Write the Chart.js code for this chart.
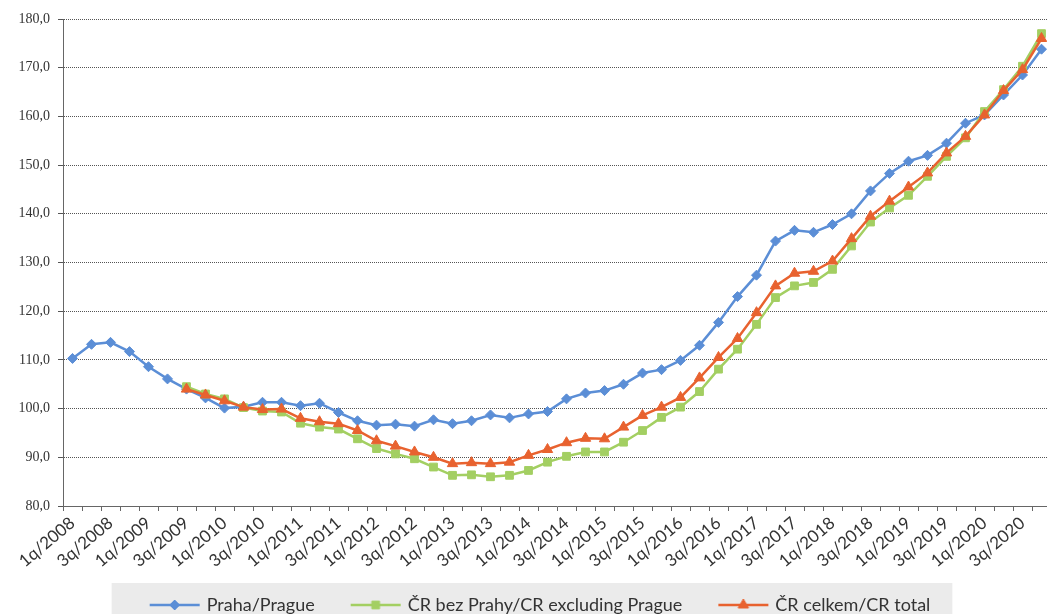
<!DOCTYPE html>
<html>
<head>
<meta charset="utf-8">
<script src="https://cdn.jsdelivr.net/npm/chart.js@4.4.1/dist/chart.umd.min.js"></script>
<style>
  html, body { margin: 0; padding: 0; background: #ffffff; overflow: hidden; }
  #wrap { position: absolute; left: 0; top: 0; width: 1058px; height: 624px; }
</style>
</head>
<body>
<div id="wrap"><canvas id="chart"></canvas></div>
<script>
// Quarterly categories, 1q/2008 .. 4q/2020
const quarters = [
  '1q/2008','2q/2008','3q/2008','4q/2008',
  '1q/2009','2q/2009','3q/2009','4q/2009',
  '1q/2010','2q/2010','3q/2010','4q/2010',
  '1q/2011','2q/2011','3q/2011','4q/2011',
  '1q/2012','2q/2012','3q/2012','4q/2012',
  '1q/2013','2q/2013','3q/2013','4q/2013',
  '1q/2014','2q/2014','3q/2014','4q/2014',
  '1q/2015','2q/2015','3q/2015','4q/2015',
  '1q/2016','2q/2016','3q/2016','4q/2016',
  '1q/2017','2q/2017','3q/2017','4q/2017',
  '1q/2018','2q/2018','3q/2018','4q/2018',
  '1q/2019','2q/2019','3q/2019','4q/2019',
  '1q/2020','2q/2020','3q/2020','4q/2020'
];

// Price index, Prague
const praha = [
  110.3, 113.2, 113.6, 111.7, 108.6, 106.1, 104.0, 102.2,
  100.1, 100.4, 101.3, 101.3, 100.6, 101.1, 99.2, 97.5,
  96.6, 96.8, 96.4, 97.7, 96.9, 97.5, 98.7, 98.1,
  98.9, 99.4, 102.0, 103.2, 103.7, 105.0, 107.3, 108.0,
  109.9, 113.0, 117.7, 123.0, 127.4, 134.4, 136.6, 136.2,
  137.8, 140.0, 144.7, 148.3, 150.8, 152.0, 154.5, 158.6,
  160.3, 164.4, 168.5, 173.8
];

// Price index, Czech Republic excluding Prague (series starts 3q/2009)
const crBezPrahy = [
  null, null, null, null, null, null, 104.5, 103.0,
  102.0, 100.2, 99.5, 99.3, 97.0, 96.2, 95.8, 93.8,
  91.8, 90.7, 89.7, 88.0, 86.3, 86.4, 86.0, 86.3,
  87.3, 89.0, 90.2, 91.1, 91.1, 93.1, 95.5, 98.2,
  100.3, 103.5, 108.1, 112.2, 117.3, 122.8, 125.2, 125.9,
  128.6, 133.4, 138.3, 141.2, 143.8, 147.7, 151.8, 155.6,
  161.0, 165.5, 170.3, 177.0
];

// Price index, Czech Republic total (series starts 3q/2009)
const crCelkem = [
  null, null, null, null, null, null, 104.0, 102.8,
  101.6, 100.3, 99.8, 99.9, 98.0, 97.3, 96.9, 95.5,
  93.4, 92.3, 91.1, 90.0, 88.7, 88.9, 88.7, 89.0,
  90.4, 91.6, 93.0, 93.9, 93.8, 96.2, 98.6, 100.3,
  102.3, 106.3, 110.5, 114.4, 119.7, 125.2, 127.8, 128.2,
  130.3, 134.9, 139.5, 142.6, 145.5, 148.4, 152.5, 155.9,
  160.3, 165.3, 169.6, 176.0
];

const seriesNames = ['Praha/Prague', 'ČR bez Prahy/CR excluding Prague', 'ČR celkem/CR total'];

const BLUE = '#5b8ed6';
const GREEN = '#a3cf62';
const RED = '#e8622f';

// Legend symbol: short line with the series marker in the middle
function legendSymbol(color, style, radius) {
  const c = document.createElement('canvas');
  c.width = 82; c.height = 18;
  const ctx = c.getContext('2d');
  ctx.strokeStyle = color;
  ctx.lineWidth = 2.5;
  ctx.beginPath();
  ctx.moveTo(30, 9);
  ctx.lineTo(80, 9);
  ctx.stroke();
  ctx.fillStyle = color;
  ctx.strokeStyle = color;
  ctx.lineWidth = 1;
  Chart.helpers.drawPoint(ctx, { pointStyle: style, radius: radius, rotation: 0, borderWidth: 1 }, 55, 9);
  return c;
}

// Light grey panel behind the legend row
const legendBackground = {
  id: 'legendBackground',
  beforeDraw(chart) {
    const boxes = chart.legend && chart.legend.legendHitBoxes;
    if (!boxes || !boxes.length) return;
    const ctx = chart.ctx;
    const last = boxes[boxes.length - 1];
    const left = boxes[0].left - 12;
    const right = last.left + last.width + 22;
    const top = boxes[0].top - 13;
    ctx.save();
    ctx.fillStyle = '#ebebeb';
    ctx.fillRect(left, top, right - left, chart.height - top);
    ctx.restore();
  }
};

const fmt = v => v.toFixed(1).replace('.', ',');

new Chart(document.getElementById('chart'), {
  type: 'line',
  data: {
    labels: quarters,
    datasets: [
      {
        label: seriesNames[0], data: praha, order: 3,
        borderColor: BLUE, backgroundColor: BLUE, borderWidth: 2.5,
        pointStyle: 'rectRot', pointRadius: 5, pointBorderWidth: 1,
        pointBackgroundColor: BLUE, pointBorderColor: BLUE, tension: 0
      },
      {
        label: seriesNames[1], data: crBezPrahy, order: 2,
        borderColor: GREEN, backgroundColor: GREEN, borderWidth: 2.5,
        pointStyle: 'rect', pointRadius: 5.5, pointBorderWidth: 1,
        pointBackgroundColor: GREEN, pointBorderColor: GREEN, tension: 0
      },
      {
        label: seriesNames[2], data: crCelkem, order: 1,
        borderColor: RED, backgroundColor: RED, borderWidth: 2.5,
        pointStyle: 'triangle', pointRadius: 6, pointBorderWidth: 1,
        pointBackgroundColor: RED, pointBorderColor: RED, tension: 0
      }
    ]
  },
  options: {
    responsive: true,
    maintainAspectRatio: false,
    animation: false,
    layout: { padding: { top: 19, right: 4, left: 0, bottom: 0 } },
    plugins: {
      tooltip: { enabled: false },
      legend: {
        position: 'bottom',
        labels: {
          usePointStyle: true,
          pointStyleWidth: 74,
          padding: 10,
          color: '#333333',
          font: { family: 'Lato', size: 18 },
          generateLabels(chart) {
            const ds = chart.data.datasets;
            return ds.map((d, i) => ({
              text: d.label,
              pointStyle: legendSymbol(d.borderColor, d.pointStyle, d.pointRadius),
              fillStyle: d.borderColor,
              strokeStyle: d.borderColor,
              lineWidth: 0,
              hidden: false,
              fontColor: '#333333',
              datasetIndex: i
            }));
          }
        }
      }
    },
    scales: {
      x: {
        type: 'category',
        offset: true,
        grid: { display: true, drawOnChartArea: false, drawTicks: true, tickLength: 5, offset: true, color: '#666666' },
        border: { display: true, color: '#666666' },
        ticks: {
          autoSkip: false, maxRotation: 40, minRotation: 40, padding: 2,
          color: '#333333', font: { family: 'Lato', size: 17 },
          callback: (v, i) => (i % 2 === 0 ? quarters[i] : '')
        },
        afterFit: s => { s.height = 80; }
      },
      y: {
        min: 80, max: 180,
        grid: { color: '#555555', lineWidth: 1, tickLength: 5, drawTicks: true },
        border: { display: true, color: '#666666', dash: [1, 1] },
        ticks: {
          stepSize: 10, padding: 8, color: '#333333',
          font: { family: 'Liberation Serif', size: 14 },
          callback: v => fmt(v)
        },
        afterFit: s => { s.width = 63; }
      }
    }
  },
  plugins: [legendBackground]
});
</script>
</body>
</html>
